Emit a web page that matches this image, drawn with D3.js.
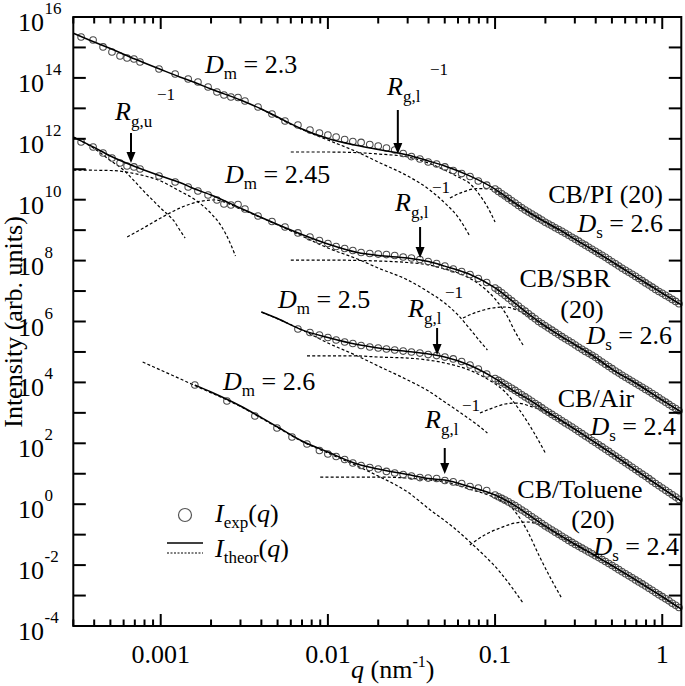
<!DOCTYPE html>
<html><head><meta charset="utf-8">
<script src="https://cdn.jsdelivr.net/npm/d3@7"></script>
<style>
html,body{margin:0;padding:0;background:#fff;}
svg{display:block;}
text{white-space:pre;}
</style></head><body>
<svg id="c" width="685" height="686"></svg>
<script>
// ---------- data ----------
const xMajor=[0.001,0.01,0.1,1];
const xTickLabels=["0.001","0.01","0.1","1"];
const yExponents=[16,15,14,13,12,11,10,9,8,7,6,5,4,3,2,1,0,-1,-2,-3,-4];
const yLabelExponents=[16,14,12,10,8,6,4,2,0,-2,-4];

// shared q grids (nm^-1)
const fitQ=[0.0003,0.0004,0.0005,0.0007,0.001,0.0013,0.0016,0.002,0.003,0.004,0.005,0.007,0.01,0.015,0.02,0.03,0.04,0.05,0.07,0.1,0.13,0.16,0.2,0.25,0.3,0.4,0.5,0.7,1.0,1.3];
const qLow=[3.34e-4,3.94e-4,4.52e-4,5.11e-4,5.71e-4,6.29e-4,6.92e-4,7.52e-4,9.77e-4,1.22e-3,1.46e-3,1.67e-3,1.92e-3,2.17e-3,2.39e-3,2.63e-3,2.90e-3,3.19e-3,3.82e-3,4.63e-3,5.54e-3,6.62e-3,7.81e-3];
const qMid=[0.0089,0.0100,0.0112,0.0126,0.0141,0.0158,0.0178,0.0200,0.0224,0.0251,0.0282,0.0316,0.0355,0.0398,0.0447,0.0501,0.0562,0.0631,0.0708,0.0794,0.0891];
const qHigh=[0.1,0.1047,0.1096,0.1148,0.1202,0.1259,0.1318,0.1380,0.1445,0.1514,0.1585,0.1660,0.1738,0.1820,0.1905,0.1995,0.2089,0.2188,0.2291,0.2399,0.2512,0.2630,0.2754,0.2884,0.3020,0.3162,0.3311,0.3467,0.3631,0.3802,0.3981,0.4169,0.4365,0.4571,0.4786,0.5012,0.5248,0.5495,0.5754,0.6026,0.6310,0.6607,0.6918,0.7244,0.7586,0.7943,0.8318,0.8710,0.9120,0.9550,1.0,1.0471,1.0965,1.1482,1.2023,1.2589];

// CB/PI (20)
const piFit=[2.95e15,1.51e15,9.2e14,4.17e14,1.89e14,1.07e14,7.1e13,4.3e13,1.88e13,9.5e12,5.2e12,2.1e12,1.02e12,6.0e11,4.45e11,2.94e11,1.87e11,1.28e11,6.2e10,2.24e10,8.1e9,3.8e9,1.85e9,9.4e8,5.1e8,1.99e8,9.3e7,2.89e7,8.6e6,3.5e6];
const piExpLow=[2.20e15,1.76e15,1.04e15,7.10e14,5.24e14,4.51e14,4.18e14,3.33e14,1.96e14,1.34e14,9.20e13,7.33e13,5.02e13,3.44e13,2.74e13,2.36e13,2.27e13,1.74e13,1.11e13,6.52e12,3.85e12,2.84e12,1.95e12];
const piExpMid=[1.55e12,1.33e12,1.15e12,9.5e11,8.1e11,7.6e11,6.5e11,5.8e11,5.0e11,4.3e11,3.3e11,2.6e11,2.17e11,1.73e11,1.49e11,1.19e11,9.1e10,7.2e10,5.8e10,4.1e10,3.0e10];
const piExpHigh=[2.23e10,1.87e10,1.57e10,1.32e10,1.10e10,9.27e9,7.73e9,6.44e9,5.42e9,4.55e9,3.91e9,3.37e9,2.89e9,2.47e9,2.14e9,1.82e9,1.59e9,1.39e9,1.20e9,1.05e9,9.1e8,7.94e8,6.82e8,5.86e8,5.05e8,4.34e8,3.72e8,3.21e8,2.75e8,2.35e8,2.03e8,1.73e8,1.49e8,1.28e8,1.08e8,9.2e7,7.85e7,6.64e7,5.62e7,4.80e7,4.13e7,3.55e7,3.03e7,2.58e7,2.19e7,1.85e7,1.58e7,1.34e7,1.13e7,9.7e6,8.4e6,7.2e6,6.2e6,5.3e6,4.57e6,3.84e6];
const piGuinQ=[0.006,0.01,0.02,0.03,0.04,0.05,0.06,0.07,0.08,0.09,0.1];
const piGuin=[3.68e11,3.68e11,3.17e11,2.52e11,1.60e11,9.4e10,5.6e10,3.53e10,1.54e10,5.8e9,1.85e9];
const piMassQ=[0.004,0.007,0.01,0.015,0.02,0.03,0.04,0.05,0.06,0.07];
const piMass=[9.5e12,2.02e12,9.1e11,3.68e11,1.73e11,6.0e10,2.24e10,7.8e9,2.7e9,6.9e8];
const piSurfQ=[0.0537,0.0643,0.078,0.0933,0.115,0.141,0.2,0.3,0.5,0.7,1.0,1.3];
const piSurf=[1.14e10,1.79e10,2.33e10,2.24e10,1.14e10,5.5e9,1.78e9,4.9e8,9.0e7,2.79e7,8.3e6,3.35e6];

// CB/SBR (20)
const sbrFit=[1.15e12,5.2e11,2.72e11,1.23e11,6.0e10,3.67e10,2.24e10,1.43e10,5.3e9,2.6e9,1.53e9,7.2e8,3.5e8,1.85e8,1.47e8,1.22e8,9.3e7,6.6e7,3.63e7,1.26e7,4.2e6,1.70e6,7.1e5,3.21e5,1.75e5,6.6e4,2.75e4,9.2e3,2.64e3,1.07e3];
const sbrExpLow=[7.85e11,5.37e11,3.41e11,2.34e11,1.60e11,1.28e11,1.19e11,1.02e11,6.0e10,3.81e10,2.61e10,1.93e10,1.43e10,9.8e9,7.2e9,6.7e9,6.95e9,4.94e9,2.91e9,1.92e9,1.27e9,8.1e8,5.96e8];
const sbrExpMid=[4.57e8,3.64e8,2.90e8,2.49e8,2.14e8,1.85e8,1.71e8,1.64e8,1.58e8,1.47e8,1.31e8,1.22e8,1.09e8,9.3e7,8.0e7,6.6e7,5.3e7,4.39e7,3.49e7,2.58e7,1.91e7];
const sbrExpHigh=[1.25e7,1.05e7,8.7e6,7.1e6,5.8e6,4.74e6,3.87e6,3.2e6,2.63e6,2.18e6,1.79e6,1.47e6,1.22e6,1.0e6,8.5e5,7.2e5,6.07e5,5.18e5,4.38e5,3.71e5,3.17e5,2.72e5,2.34e5,2.0e5,1.69e5,1.43e5,1.22e5,1.04e5,9.0e4,7.76e4,6.67e4,5.56e4,4.67e4,3.93e4,3.33e4,2.82e4,2.37e4,2.02e4,1.72e4,1.48e4,1.26e4,1.09e4,9.3e3,8.0e3,6.9e3,5.9e3,5.1e3,4.32e3,3.68e3,3.1e3,2.64e3,2.24e3,1.89e3,1.61e3,1.38e3,1.17e3];
const sbrUpQ=[0.0003,0.0004,0.0005,0.0006,0.0007,0.0008,0.0009,0.001,0.0011,0.0012,0.0013,0.0014];
const sbrUp=[1.15e12,4.8e11,1.94e11,9.4e10,3.95e10,1.79e10,9.4e9,5.3e9,3.27e9,2.0e9,1.01e9,5.5e8];
const sbrUGQ=[0.0003,0.0005,0.0007,0.001,0.0013,0.0016,0.002,0.0023,0.0026,0.0028];
const sbrUG=[9.4e10,9.1e10,7.2e10,4.1e10,1.93e10,1.01e10,3.52e9,1.37e9,3.8e8,1.42e8];
const sbrMassQ=[6.3e-4,7.5e-4,1.0e-3,1.3e-3,1.65e-3,2.1e-3,3e-3,5e-3,7e-3,0.01,0.015,0.02,0.03,0.04,0.05,0.06,0.07,0.08,0.09];
const sbrMass=[5.96e8,1.01e9,2.5e9,5.3e9,8.4e9,9.8e9,4.94e9,1.48e9,6.4e8,2.59e8,1.13e8,5.7e7,2.31e7,9.3e6,4.05e6,1.63e6,6.1e5,2.47e5,1.16e5];
const sbrGuinQ=[0.006,0.01,0.02,0.03,0.04,0.05,0.06,0.07,0.08,0.09,0.1,0.11,0.12,0.13,0.147];
const sbrGuin=[1.04e8,1.04e8,9.7e7,8.65e7,7.2e7,5.3e7,3.91e7,2.68e7,1.70e7,1.0e7,5.5e6,2.77e6,1.30e6,5.3e5,1.69e5];
const sbrSurfQ=[0.0643,0.078,0.0966,0.115,0.135,0.161,0.2,0.3,0.5,0.7,1.0,1.3];
const sbrSurf=[1.30e6,2.05e6,2.77e6,2.99e6,2.38e6,1.40e6,6.6e5,1.69e5,2.65e4,8.9e3,2.54e3,1.03e3];

// CB/Air
const airFit=[null,null,null,null,null,null,null,null,null,2.05e6,1.25e6,5.3e5,2.98e5,1.75e5,1.35e5,1.03e5,8.55e4,6.8e4,3.72e4,1.34e4,5.2e3,2.74e3,1.19e3,5.6e2,2.94e2,1.04e2,45.8,12.8,3.4,1.27];
const airExpLow=[5.66e5,4.35e5];
const airExpMid=[3.6e5,2.98e5,2.47e5,2.12e5,1.89e5,1.63e5,1.45e5,1.35e5,1.25e5,1.16e5,1.07e5,9.95e4,9.2e4,8.2e4,7.6e4,6.8e4,5.9e4,4.85e4,3.72e4,2.75e4,1.89e4];
const airExpHigh=[1.33e4,1.16e4,1.0e4,8.7e3,7.5e3,6.4e3,5.46e3,4.66e3,3.94e3,3.34e3,2.83e3,2.39e3,2.03e3,1.72e3,1.45e3,1.22e3,1.04e3,889,759,647,548,468,399,340,288,244,207,173,148,124,106,89,76,64,54,45.5,38.3,32.4,27.2,23.1,19.4,16.3,13.7,11.6,9.7,8.2,6.9,5.7,4.8,4.05,3.4,2.86,2.42,2.03,1.71,1.44];
const airGuinQ=[0.0075,0.015,0.02,0.03,0.04,0.05,0.07,0.09,0.115,0.14,0.17,0.2];
const airGuin=[7.4e4,7.4e4,6.8e4,6.3e4,5.4e4,4.34e4,2.55e4,1.29e4,4.83e3,1.24e3,235,48];
const airMassQ=[0.004,0.007,0.01,0.015,0.02,0.03,0.04,0.05,0.065,0.08,0.09];
const airMass=[2.05e6,5.3e5,1.97e5,7.4e4,3.45e4,1.2e4,5.2e3,2.27e3,850,370,218];
const airSurfQ=[0.0812,0.0966,0.115,0.135,0.161,0.2,0.25,0.3,0.4,0.5,0.7,1.0,1.3];
const airSurf=[990,1.44e3,1.95e3,2.1e3,1.68e3,1.07e3,520,284,102,44.5,12.3,3.27,1.22];

// CB/Toluene (20)
const tolFit=[null,null,null,null,null,null,8.2e3,4.83e3,1.68e3,700,343,119,51.8,20.9,14.3,9.4,7.0,6.2,3.8,2.0,0.94,0.435,0.189,0.090,0.0493,0.0202,9.7e-3,3.17e-3,9.2e-4,3.6e-4];
const tolQLow=[1.60e-3,2.49e-3,3.66e-3,4.96e-3,6.10e-3,7.50e-3];
const tolExpLow=[8.2e3,2.45e3,790,318,161,94.8];
const tolExpMid=[58,44.5,36.8,29.4,22.5,18.7,16.0,14.3,11.9,10.6,9.4,8.4,7.5,7.2,7.0,6.0,5.4,4.8,3.8,3.4,2.82];
const tolExpHigh=[1.99,1.76,1.55,1.36,1.19,1.03,0.90,0.76,0.644,0.55,0.458,0.385,0.324,0.272,0.231,0.194,0.165,0.142,0.121,0.104,0.0889,0.0759,0.0647,0.0556,0.0478,0.0414,0.0359,0.0313,0.0271,0.0235,0.0203,0.0176,0.0153,0.0131,0.0113,9.7e-3,8.3e-3,7.1e-3,6.07e-3,5.21e-3,4.45e-3,3.83e-3,3.26e-3,2.81e-3,2.41e-3,2.06e-3,1.74e-3,1.48e-3,1.25e-3,1.07e-3,9.2e-4,7.8e-4,6.7e-4,5.6e-4,4.8e-4,4.05e-4];
const tolMassQ=[7.8e-4,1.6e-3,3e-3,5e-3,7e-3,0.01,0.015,0.02,0.03,0.041,0.056,0.074,0.107,0.147];
const tolMass=[4.68e4,7.9e3,1.61e3,330,115,48,17.9,8.4,2.5,0.644,0.178,0.0457,5.9e-3,5.7e-4];
const tolGuinQ=[0.009,0.02,0.03,0.041,0.05,0.07,0.1,0.128,0.155,0.185,0.218,0.25];
const tolGuin=[7.8,7.8,7.2,6.2,5.4,3.15,1.6,0.695,0.142,0.0185,3.2e-3,8.3e-4];
const tolSurfQ=[0.0706,0.0866,0.107,0.132,0.155,0.2,0.25,0.3,0.4,0.5,0.7,1.0,1.3];
const tolSurf=[0.0457,0.0973,0.165,0.241,0.26,0.172,0.0805,0.0457,0.0191,9.3e-3,3.12e-3,8.95e-4,3.5e-4];

// Rg^-1 positions (nm^-1)
const rgInv=[0.0262,6.64e-4,0.0356,0.045,0.05];

// ---------- drawing ----------
const FONT="'Liberation Serif', 'Times New Roman', serif";
const L=73.3,R=681.3,T=17,B=626;
const x=d3.scaleLog().domain([0.0003,1.3]).range([L,R]);
const y=d3.scaleLog().domain([1e-4,1e16]).range([B,T]);
const svg=d3.select("#c");
const zip=(qs,vs)=>qs.map((q,i)=>[q,vs[i]]);
const line=d3.line().defined(d=>d[1]!=null).x(d=>x(d[0])).y(d=>y(d[1])).curve(d3.curveMonotoneX);

const series=[
 {fit:piFit, exp:[zip(qLow,piExpLow),zip(qMid,piExpMid),zip(qHigh,piExpHigh)],
  comps:[zip(piGuinQ,piGuin),zip(piMassQ,piMass),zip(piSurfQ,piSurf)]},
 {fit:sbrFit, exp:[zip(qLow,sbrExpLow),zip(qMid,sbrExpMid),zip(qHigh,sbrExpHigh)],
  comps:[zip(sbrUpQ,sbrUp),zip(sbrUGQ,sbrUG),zip(sbrMassQ,sbrMass),zip(sbrGuinQ,sbrGuin),zip(sbrSurfQ,sbrSurf)]},
 {fit:airFit, exp:[zip(qLow.slice(21),airExpLow),zip(qMid,airExpMid),zip(qHigh,airExpHigh)],
  comps:[zip(airGuinQ,airGuin),zip(airMassQ,airMass),zip(airSurfQ,airSurf)]},
 {fit:tolFit, exp:[zip(tolQLow,tolExpLow),zip(qMid,tolExpMid),zip(qHigh,tolExpHigh)],
  comps:[zip(tolMassQ,tolMass),zip(tolGuinQ,tolGuin),zip(tolSurfQ,tolSurf)]}
];

const gDash=svg.append("g"), gExp=svg.append("g"), gFit=svg.append("g");
series.forEach(s=>{
  s.comps.forEach(c=>{
    gDash.append("path").attr("d",line(c)).attr("fill","none").attr("stroke","#000")
      .attr("stroke-width",1.2).attr("stroke-dasharray","3 2.2");
  });
  s.exp.forEach(pts=>{
    gExp.selectAll(null).data(pts).enter().append("circle")
      .attr("cx",d=>x(d[0])).attr("cy",d=>y(d[1])).attr("r",3.3)
      .attr("fill","none").attr("stroke","#4a4a4a").attr("stroke-width",1.05);
  });
  gFit.append("path").attr("d",line(zip(fitQ,s.fit))).attr("fill","none")
    .attr("stroke","#000").attr("stroke-width",1.5);
});

// frame
svg.append("rect").attr("x",L).attr("y",T).attr("width",R-L).attr("height",B-T)
  .attr("fill","none").attr("stroke","#000").attr("stroke-width",2);

// x ticks
const xt=svg.append("g").attr("stroke","#000").attr("stroke-width",2);
[-4,-3,-2,-1,0].forEach(e=>{
  for(let m=1;m<10;m++){
    const v=m*Math.pow(10,e);
    if(v<0.0003*0.999||v>1.3) continue;
    const len=(m===1)?12:6.5;
    const px=x(v);
    xt.append("line").attr("x1",px).attr("x2",px).attr("y1",B).attr("y2",B-len);
    xt.append("line").attr("x1",px).attr("x2",px).attr("y1",T).attr("y2",T+len);
  }
});

function txt(x0,y0,s,size,anchor){
  return svg.append("text").attr("x",x0).attr("y",y0).style("font-family",FONT)
    .attr("font-size",size||26).attr("text-anchor",anchor||"start").text(s);
}
xMajor.forEach((v,i)=>txt(x(v),663,xTickLabels[i],26,"middle"));

// y ticks
yExponents.forEach(e=>{
  const py=y(Math.pow(10,e));
  xt.append("line").attr("x1",L).attr("x2",L+12.5).attr("y1",py).attr("y2",py);
  xt.append("line").attr("x1",R-12.5).attr("x2",R).attr("y1",py).attr("y2",py);
});
yLabelExponents.forEach(e=>{
  const py=y(Math.pow(10,e));
  txt(44,py+14,"10",26,"end");
  txt(44.5,py-3,String(e),17);
});

function rich(x0,y0,parts,anchor){
  const t=svg.append("text").attr("x",x0).attr("y",y0).attr("font-size",26)
    .style("font-family",FONT).attr("text-anchor",anchor||"start");
  parts.forEach(p=>{
    const s=t.append("tspan").text(p[0]);
    if(p[1]) s.attr("font-style","italic");
    if(p[2]) s.attr("font-size",p[2]);
    if(p[3]) s.attr("dy",p[3]);
  });
  return t;
}

// axis titles
rich(351,678,[["q",1],[" (nm"],["-1",0,16,-11],[")",0,0,11]]);
svg.append("text").attr("transform","translate(22,322) rotate(-90)").attr("text-anchor","middle")
  .style("font-family",FONT).attr("font-size",26).text("Intensity (arb. units)");

// Dm labels
[[205,73,"2.3"],[225,183,"2.45"],[278,308,"2.5"],[223,390,"2.6"]].forEach(a=>{
  rich(a[0],a[1],[["D",1],["m",0,17,6],[" = "+a[2],0,0,-6]]);
});

// Rg labels + arrows
const rgLab=[
  {x:387,y:95,sub:"g,l",sx:430,sy:75,a1:110,a2:154},
  {x:115,y:120,sub:"g,u",sx:157,sy:100,a1:133,a2:163},
  {x:395,y:211,sub:"g,l",sx:432,sy:193,a1:227,a2:258},
  {x:408,y:317,sub:"g,l",sx:445,sy:298,a1:328,a2:355},
  {x:425,y:428,sub:"g,l",sx:462,sy:411,a1:448,a2:474}
];
rgLab.forEach((r,i)=>{
  rich(r.x,r.y,[["R",1],[r.sub,0,17,7]]);
  txt(r.sx,r.sy,"\u22121",17);
  const ax=x(rgInv[i]);
  svg.append("line").attr("x1",ax).attr("x2",ax).attr("y1",r.a1).attr("y2",r.a2-9)
    .attr("stroke","#000").attr("stroke-width",2);
  svg.append("path").attr("d",`M${ax-4.5},${r.a2-11}L${ax+4.5},${r.a2-11}L${ax},${r.a2}Z`).attr("fill","#000");
});

// sample labels
rich(663,203,[["CB/PI (20)"]],"end");
rich(663,232,[["D",1],["s",0,17,6],[" = 2.6",0,0,-6]],"end");
rich(565,287,[["CB/SBR"]],"middle");
rich(582,318,[["(20)"]],"middle");
rich(672,344,[["D",1],["s",0,17,6],[" = 2.6",0,0,-6]],"end");
rich(596,407,[["CB/Air"]],"middle");
rich(676,435,[["D",1],["s",0,17,6],[" = 2.4",0,0,-6]],"end");
rich(580,498,[["CB/Toluene"]],"middle");
rich(593,528,[["(20)"]],"middle");
rich(679,555,[["D",1],["s",0,17,6],[" = 2.4",0,0,-6]],"end");

// legend
svg.append("circle").attr("cx",185).attr("cy",515).attr("r",6.5).attr("fill","none")
  .attr("stroke","#555").attr("stroke-width",1.2);
rich(215,522,[["I",1],["exp",0,17,6],["(",0,0,-6],["q",1],[")"]]);
svg.append("line").attr("x1",167).attr("x2",203).attr("y1",543).attr("y2",543)
  .attr("stroke","#000").attr("stroke-width",1.5);
svg.append("line").attr("x1",167).attr("x2",203).attr("y1",553).attr("y2",553)
  .attr("stroke","#000").attr("stroke-width",1.2).attr("stroke-dasharray","2 1.5");
rich(215,557,[["I",1],["theor",0,17,6],["(",0,0,-6],["q",1],[")"]]);
</script></body></html>
